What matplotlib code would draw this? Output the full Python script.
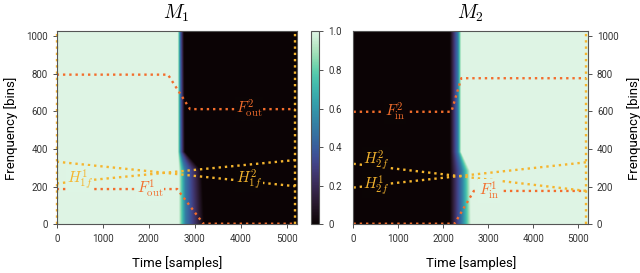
import numpy as np
import matplotlib.pyplot as plt
import seaborn as sns

plt.rcParams['font.family'] = ['Roboto', 'DejaVu Sans']
plt.rcParams['mathtext.fontset'] = 'cm'

# axis ranges
t_max = 5220
f_max = 1024

# mask transitions per frequency: start / middle / end time of the crossfade
mask_freq = [0, 280, 380, 1024]
m1_t_start = [2650, 2650, 2630, 2630]
m1_t_mid = [2800, 2790, 2690, 2680]
m1_v_mid = [0.5, 0.5, 0.55, 0.55]
m1_t_end = [3200, 3150, 2780, 2760]
m2_t_start = [2150, 2150, 2150, 2150]
m2_t_mid = [2420, 2420, 2330, 2330]
m2_v_mid = [0.5, 0.5, 0.5, 0.5]
m2_t_end = [2620, 2600, 2400, 2400]

# trajectories in M1
m1_fout2_t = [0, 2420, 2900, 5190]
m1_fout2_f = [795, 795, 612, 612]
m1_fout1_t = [0, 2620, 3190, 5190]
m1_fout1_f = [188, 188, 4, 4]
m1_h1_t = [0, 5190]
m1_h1_f = [218, 342]
m1_h2_t = [0, 5190]
m1_h2_f = [333, 203]

# trajectories in M2
m2_fin2_t = [0, 2180, 2400, 5180]
m2_fin2_f = [598, 598, 776, 776]
m2_fin1_t = [0, 2250, 2680, 5180]
m2_fin1_f = [4, 4, 178, 178]
m2_h1_t = [0, 5180]
m2_h1_f = [196, 330]
m2_h2_t = [0, 5180]
m2_h2_f = [322, 178]

edge_lines = [[0, 5180], [5180]]

orange = '#f36d2c'
yellow = '#f5b52e'
cmap = sns.color_palette("mako", as_cmap=True)

t_grid = np.arange(0, t_max + 1, 5)
f_grid = np.arange(0, f_max + 1, 4)


def build_mask(ts, tm, vm, te, rising):
    img = np.zeros((len(f_grid), len(t_grid)))
    for i, f in enumerate(f_grid):
        a = np.interp(f, mask_freq, ts)
        b = np.interp(f, mask_freq, tm)
        v = np.interp(f, mask_freq, vm)
        c = np.interp(f, mask_freq, te)
        row = np.interp(t_grid, [a, b, c], [1, 1 - v, 0])
        img[i] = 1 - row if rising else row
    return img


mask1 = build_mask(m1_t_start, m1_t_mid, m1_v_mid, m1_t_end, False)
mask2 = build_mask(m2_t_start, m2_t_mid, m2_v_mid, m2_t_end, True)


def label(ax, img, tx, ty, x, txt, color, dy=0):
    y = np.interp(x, tx, ty)
    bg = cmap(img[int(round(y / 4)), int(round(x / 5))])
    ax.annotate(txt, (x, y), xytext=(0, dy), textcoords='offset points',
                color=color, fontsize=11, ha='center', va='center', zorder=5,
                bbox=dict(boxstyle='square,pad=0.05', fc=bg, ec='none'))


fig = plt.figure(figsize=(6.4, 2.73), dpi=100)
ax1 = fig.add_axes([0.0886, 0.1777, 0.375, 0.707])
cax = fig.add_axes([0.4855, 0.1777, 0.0134, 0.707])
ax2 = fig.add_axes([0.5523, 0.1777, 0.3664, 0.707])

for ax, img, title in [(ax1, mask1, r'$M_1$'), (ax2, mask2, r'$M_2$')]:
    im = ax.imshow(img, origin='lower', aspect='auto', cmap=cmap, vmin=0, vmax=1,
                   extent=[0, t_max, 0, f_max], interpolation='bilinear')
    ax.set_xlim(0, t_max)
    ax.set_ylim(0, f_max)
    ax.set_title(title, fontsize=14, pad=9)
    ax.set_xticks([0, 1000, 2000, 3000, 4000, 5000])
    ax.set_yticks([0, 200, 400, 600, 800, 1000])
    ax.tick_params(labelsize=7, colors='#333333', length=3, width=0.6)
    ax.set_xlabel('Time [samples]', fontsize=9.5, labelpad=9)
    ax.set_ylabel('Frenquency [bins]', fontsize=9.5, labelpad=6)
    for s in ax.spines.values():
        s.set_color('#555555')
        s.set_linewidth(0.8)

ax2.yaxis.tick_right()
ax2.yaxis.set_label_position('right')

lw = 1.7
# M1 lines
ax1.plot(m1_fout2_t, m1_fout2_f, ':', color=orange, lw=lw)
ax1.plot(m1_fout1_t, m1_fout1_f, ':', color=orange, lw=lw)
ax1.plot(m1_h1_t, m1_h1_f, ':', color=yellow, lw=lw)
ax1.plot(m1_h2_t, m1_h2_f, ':', color=yellow, lw=lw)
for x in edge_lines[0]:
    ax1.axvline(x, ls=':', color=yellow, lw=lw, clip_on=False)
label(ax1, mask1, m1_fout2_t, m1_fout2_f, 4180, r'$F^2_{\rm out}$', orange)
label(ax1, mask1, m1_fout1_t, m1_fout1_f, 2030, r'$F^1_{\rm out}$', orange)
label(ax1, mask1, m1_h1_t, m1_h1_f, 500, r'$H^1_{1f}$', yellow, dy=1.5)
label(ax1, mask1, m1_h2_t, m1_h2_f, 4180, r'$H^2_{1f}$', yellow, dy=1.5)

# M2 lines
ax2.plot(m2_fin2_t, m2_fin2_f, ':', color=orange, lw=lw)
ax2.plot(m2_fin1_t, m2_fin1_f, ':', color=orange, lw=lw)
ax2.plot(m2_h1_t, m2_h1_f, ':', color=yellow, lw=lw)
ax2.plot(m2_h2_t, m2_h2_f, ':', color=yellow, lw=lw)
for x in edge_lines[1]:
    ax2.axvline(x, ls=':', color=yellow, lw=lw, clip_on=False)
label(ax2, mask2, m2_fin2_t, m2_fin2_f, 920, r'$F^2_{\rm in}$', orange)
label(ax2, mask2, m2_fin1_t, m2_fin1_f, 3020, r'$F^1_{\rm in}$', orange)
label(ax2, mask2, m2_h2_t, m2_h2_f, 500, r'$H^2_{2f}$', yellow, dy=4.5)
label(ax2, mask2, m2_h1_t, m2_h1_f, 500, r'$H^1_{2f}$', yellow, dy=0)

cb = fig.colorbar(im, cax=cax, ticks=[0, 0.2, 0.4, 0.6, 0.8, 1.0])
cb.ax.set_yticklabels(['0', '0.2', '0.4', '0.6', '0.8', '1.0'])
cb.ax.tick_params(labelsize=7, colors='#333333', length=3, width=0.6)
cb.outline.set_edgecolor('#555555')
cb.outline.set_linewidth(0.8)

fig.savefig('out.png', dpi=100)
